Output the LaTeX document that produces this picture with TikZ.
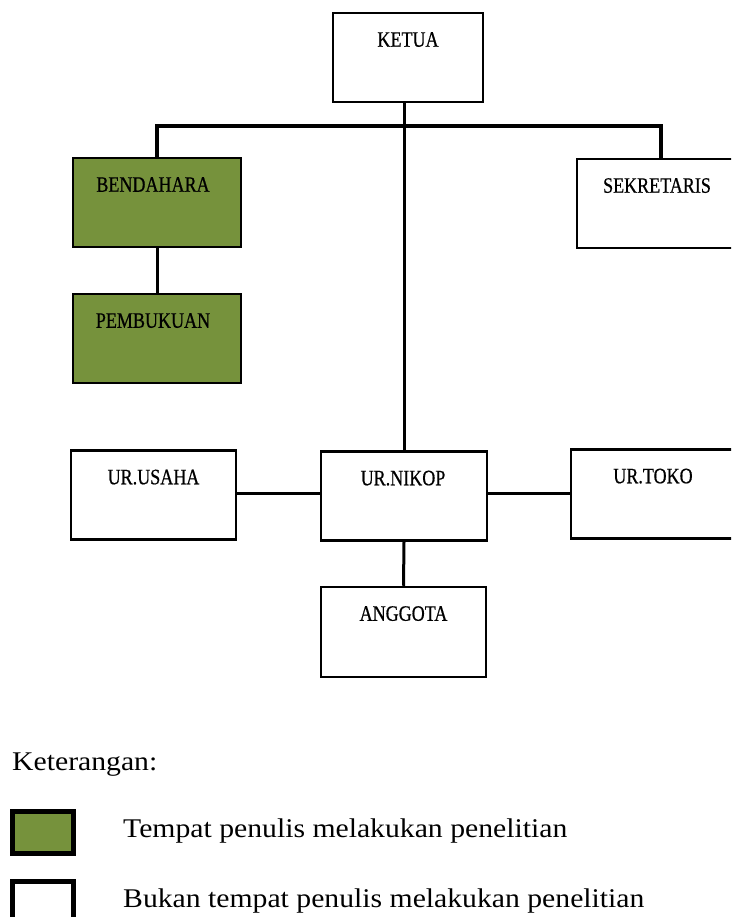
\documentclass[tikz,border=0pt]{standalone}
\usepackage{fontspec}
\newfontfamily\boxfont[FakeStretch=0.82,FakeBold=0.6]{Liberation Serif}
\newfontfamily\legfont[FakeStretch=1.1]{Liberation Serif}
\definecolor{olivegreen}{HTML}{76923C}
\begin{document}
\begin{tikzpicture}[x=1pt,y=-1pt,
  orgbox/.style={draw=black,line width=2.5pt,fill=white,minimum width=#1,minimum height=89pt,inner sep=0pt},
  orgbox/.default=166pt,
  greenbox/.style={orgbox=168pt,fill=olivegreen},
  boxlabel/.style={anchor=base,inner sep=0pt,font=\boxfont\fontsize{22}{24}\selectfont},
  legtext/.style={anchor=base west,inner sep=0pt,font=\legfont\fontsize{27}{30}\selectfont},
  bus/.style={line width=4.5pt},
  conn/.style={line width=3pt},
  legsq/.style={draw=black,line width=5pt}]
\useasboundingbox (0,0) rectangle (731,917);
\clip (0,0) rectangle (731,917);
\fill[white] (0,0) rectangle (731,917);
\coordinate (bus) at (0,126);
\coordinate (midrow) at (0,493);

% boxes
\node[orgbox=150pt] (ketua) at (408,57.5) {};
\node[greenbox] (benda) at (157,202.5) {};
\node[greenbox] (pemb) at (157,338.5) {};
\node[orgbox=168pt] (sekre) at (661,203.5) {};
\node[orgbox=165pt] (usaha) at (153.5,495) {};
\node[orgbox] (nikop) at (404,496) {};
\node[orgbox=168pt] (toko) at (655,494) {};
\node[orgbox=165pt,minimum height=90pt] (anggota) at (403.5,632) {};

% connectors
\draw[bus] (benda.north) -- (benda.north |- bus) -| (sekre.north);
\draw[conn] (nikop.north |- ketua.south) -- (nikop.north);
\draw[conn] (benda.south) -- (pemb.north);
\draw[conn] (nikop.west |- midrow) -- (usaha.east |- midrow);
\draw[conn] (nikop.east |- midrow) -- (toko.west |- midrow);
\draw[conn] (nikop.south) -- (anggota.north);

% labels
\node[boxlabel] (tketua) at ([yshift=-35pt]ketua.north) {KETUA};
\node[boxlabel] (tbenda) at ([xshift=-4pt,yshift=-35pt]benda.north) {BENDAHARA};
\node[boxlabel] (tpemb) at ([xshift=-4pt,yshift=-35pt]pemb.north) {PEMBUKUAN};
\node[boxlabel] (tsekre) at ([xshift=-4pt,yshift=-35pt]sekre.north) {SEKRETARIS};
\node[boxlabel] (tusaha) at ([yshift=-35pt]usaha.north) {UR.USAHA};
\node[boxlabel] (tnikop) at ([xshift=-1pt,yshift=-35pt]nikop.north) {UR.NIKOP};
\node[boxlabel] (ttoko) at ([xshift=-2pt,yshift=-35pt]toko.north) {UR.TOKO};
\node[boxlabel] (tanggota) at ([yshift=-35pt]anggota.north) {ANGGOTA};

% legend
\node[legtext] (ket) at (12,770) {Keterangan:};
\node[legsq,fill=olivegreen,minimum width=61pt,minimum height=42pt,inner sep=0pt] (lgreen) at (43,832.5) {};
\node[legsq,fill=white,minimum width=61pt,minimum height=48pt,inner sep=0pt] (lwhite) at (43,905.5) {};
\node[legtext] (lt1) at (123,837) {Tempat penulis melakukan penelitian};
\node[legtext] (lt2) at (123,907) {Bukan tempat penulis melakukan penelitian};
\end{tikzpicture}
\end{document}
